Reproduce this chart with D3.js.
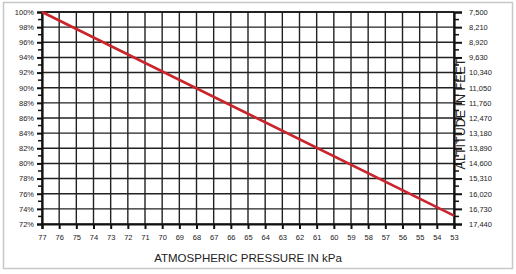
<!DOCTYPE html>
<html>
<head>
<meta charset="utf-8">
<script src="https://cdn.jsdelivr.net/npm/d3@7"></script>
<style>
  body { margin: 0; background: #fff; }
  text { font-family: "Liberation Sans", Arial, sans-serif; fill: #222; }
</style>
</head>
<body>
<svg id="chart" width="516" height="274"></svg>
<script>
// data
const pressureTicks = d3.range(77, 52, -1);            // 77 .. 53 kPa
const percentTicks = d3.range(100, 71, -2);            // 100% .. 72%
const altitudeTicks = [7500, 8210, 8920, 9630, 10340, 11050, 11760, 12470,
                       13180, 13890, 14600, 15310, 16020, 16730, 17440];
const linePressure = [77, 53];
const linePercent = [100, 73.1];

const svg = d3.select('#chart');
const plot = {left: 42, right: 454, top: 12, bottom: 224};

// outer frame
svg.append('rect')
  .attr('x', 3.5).attr('y', 2.5).attr('width', 509).attr('height', 266)
  .attr('fill', 'none').attr('stroke', '#c8c8c8').attr('stroke-width', 1.5);

const x = d3.scaleLinear().domain([77, 53]).range([plot.left, plot.right]);
const y = d3.scaleLinear().domain([72, 100]).range([plot.bottom, plot.top]);
const yAlt = d3.scaleLinear().domain([7500, 17440]).range([plot.top, plot.bottom]);

// grid
const grid = svg.append('g').attr('stroke', '#222').attr('stroke-width', 1.4);
grid.selectAll('.v').data(pressureTicks).enter().append('line')
  .attr('x1', d => x(d)).attr('x2', d => x(d))
  .attr('y1', plot.top).attr('y2', plot.bottom);
grid.selectAll('.h').data(percentTicks).enter().append('line')
  .attr('x1', plot.left).attr('x2', plot.right)
  .attr('y1', d => y(d)).attr('y2', d => y(d));

// left axis: major + minor ticks
const leftAxis = d3.axisLeft(y).tickValues(percentTicks).tickSize(5).tickPadding(3)
  .tickFormat(d => d + '%');
const gl = svg.append('g').attr('transform', `translate(${plot.left},0)`).call(leftAxis);
gl.selectAll('.tick line').attr('stroke', '#111').attr('stroke-width', 2);
gl.selectAll('.tick text').attr('font-size', 7.5).attr('fill', '#333');
gl.select('.domain').attr('stroke', '#111').attr('stroke-width', 2.2);
gl.selectAll('.minor').data(d3.range(99, 72, -2)).enter().append('line')
  .attr('x1', -4).attr('x2', 0).attr('y1', d => y(d)).attr('y2', d => y(d))
  .attr('stroke', '#111').attr('stroke-width', 1.5);

// bottom axis
const bottomAxis = d3.axisBottom(x).tickValues(pressureTicks).tickSize(5).tickPadding(6)
  .tickFormat(d3.format('d'));
const gb = svg.append('g').attr('transform', `translate(0,${plot.bottom})`).call(bottomAxis);
gb.selectAll('.tick line').attr('stroke', '#111').attr('stroke-width', 2);
gb.selectAll('.tick text').attr('font-size', 7.5).attr('fill', '#333');
gb.select('.domain').attr('stroke', '#111').attr('stroke-width', 2.2);

// right axis (altitude)
const rightAxis = d3.axisRight(yAlt).tickValues(altitudeTicks).tickSize(8).tickPadding(7)
  .tickFormat(d3.format(','));
const gr = svg.append('g').attr('transform', `translate(${plot.right},0)`).call(rightAxis);
gr.selectAll('.tick line').attr('stroke', '#111').attr('stroke-width', 2);
gr.selectAll('.tick text').attr('font-size', 7.5).attr('fill', '#333');
gr.select('.domain').attr('stroke', '#111').attr('stroke-width', 2.2);
gr.selectAll('.minor').data(altitudeTicks.slice(1).map(v => v - 355)).enter().append('line')
  .attr('x1', 0).attr('x2', 5).attr('y1', d => yAlt(d)).attr('y2', d => yAlt(d))
  .attr('stroke', '#111').attr('stroke-width', 1.5);

// top border of plot
svg.append('line').attr('x1', plot.left).attr('x2', plot.right)
  .attr('y1', plot.top).attr('y2', plot.top)
  .attr('stroke', '#111').attr('stroke-width', 1.6);

// pressure line
svg.append('path')
  .datum(d3.zip(linePressure, linePercent))
  .attr('d', d3.line().x(d => x(d[0])).y(d => y(d[1])))
  .attr('fill', 'none').attr('stroke', '#c9252c').attr('stroke-width', 2.6);

// axis titles
svg.append('text')
  .attr('x', 248).attr('y', 262).attr('text-anchor', 'middle')
  .attr('font-size', 11.5)
  .text('ATMOSPHERIC PRESSURE IN kPa');
svg.append('text')
  .attr('transform', 'translate(465,114) rotate(-90)')
  .attr('text-anchor', 'middle').attr('font-size', 12.5)
  .text('ALTITUDE IN FEET');
</script>
</body>
</html>
